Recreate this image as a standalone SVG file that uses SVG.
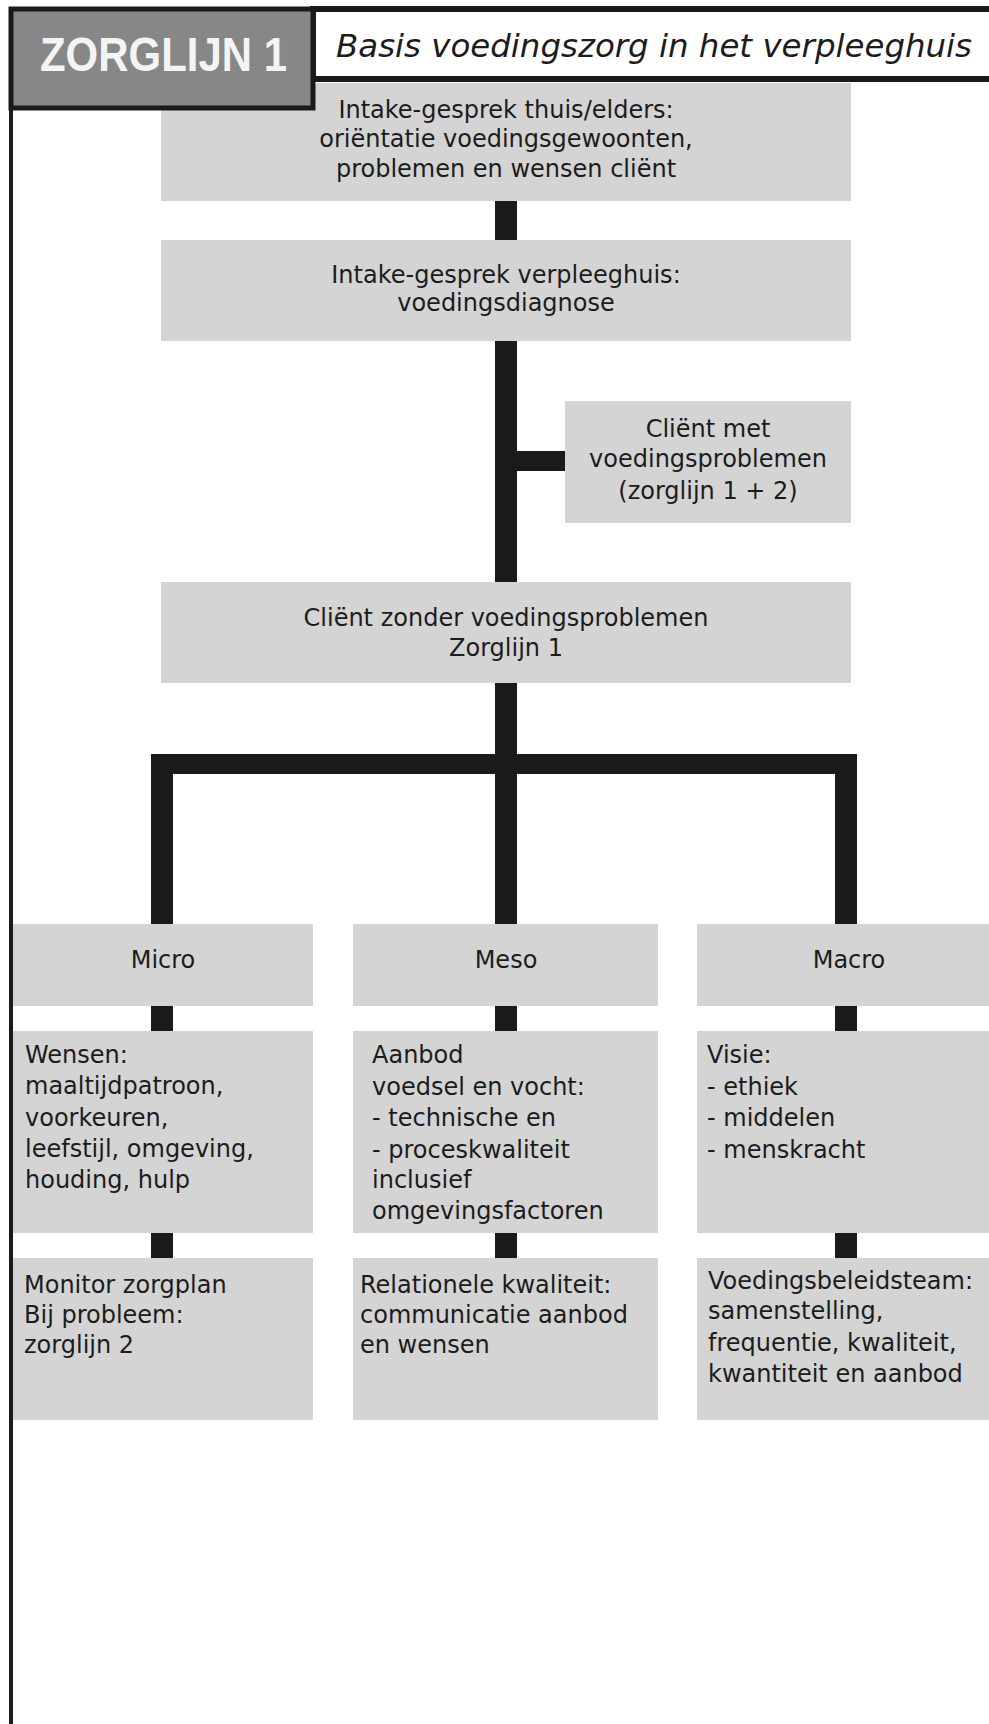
<svg xmlns="http://www.w3.org/2000/svg" width="989" height="1724" viewBox="0 0 989 1724">
<style>
.box{fill:#d4d4d4}
.t{font-family:"DejaVu Sans",Verdana,sans-serif;font-size:24px;fill:#1c1c1c}
.c{text-anchor:middle}
.bar{fill:#1a1a1a}
</style>
<rect width="989" height="1724" fill="#ffffff"/>
<g id="connectors" class="bar">
<rect x="495" y="199" width="22" height="43"/>
<rect x="495" y="339" width="22" height="245"/>
<rect x="515" y="451" width="52" height="20"/>
<rect x="495" y="681" width="22" height="83"/>
<rect x="151" y="754" width="706" height="20"/>
<rect x="151" y="754" width="22" height="172"/>
<rect x="495" y="754" width="22" height="172"/>
<rect x="835" y="754" width="22" height="172"/>
<rect x="151" y="1004" width="22" height="29"/>
<rect x="495" y="1004" width="22" height="29"/>
<rect x="835" y="1004" width="22" height="29"/>
<rect x="151" y="1231" width="22" height="29"/>
<rect x="495" y="1231" width="22" height="29"/>
<rect x="835" y="1231" width="22" height="29"/>
</g>
<g id="intake-thuis">
<rect class="box" x="161" y="83" width="690" height="118"/>
<text class="t c" x="506" y="118">Intake-gesprek thuis/elders:</text>
<text class="t c" x="506" y="147">oriëntatie voedingsgewoonten,</text>
<text class="t c" x="506" y="177">problemen en wensen cliënt</text>
</g>
<g id="intake-verpleeghuis">
<rect class="box" x="161" y="240" width="690" height="101"/>
<text class="t c" x="506" y="283">Intake-gesprek verpleeghuis:</text>
<text class="t c" x="506" y="311">voedingsdiagnose</text>
</g>
<g id="client-met">
<rect class="box" x="565" y="401" width="286" height="122"/>
<text class="t c" x="708" y="437">Cliënt met</text>
<text class="t c" x="708" y="467">voedingsproblemen</text>
<text class="t c" x="708" y="499">(zorglijn 1 + 2)</text>
</g>
<g id="client-zonder">
<rect class="box" x="161" y="582" width="690" height="101"/>
<text class="t c" x="506" y="626">Cliënt zonder voedingsproblemen</text>
<text class="t c" x="506" y="656">Zorglijn 1</text>
</g>
<g id="micro">
<rect class="box" x="13" y="924" width="300" height="82"/>
<text class="t c" x="163" y="968">Micro</text>
</g>
<g id="meso">
<rect class="box" x="353" y="924" width="305" height="82"/>
<text class="t c" x="506" y="968">Meso</text>
</g>
<g id="macro">
<rect class="box" x="697" y="924" width="300" height="82"/>
<text class="t c" x="849" y="968">Macro</text>
</g>
<g id="micro-wensen">
<rect class="box" x="13" y="1031" width="300" height="202"/>
<text class="t" x="25" y="1063">Wensen:</text>
<text class="t" x="25" y="1094">maaltijdpatroon,</text>
<text class="t" x="25" y="1126">voorkeuren,</text>
<text class="t" x="25" y="1157">leefstijl, omgeving,</text>
<text class="t" x="25" y="1188">houding, hulp</text>
</g>
<g id="meso-aanbod">
<rect class="box" x="353" y="1031" width="305" height="202"/>
<text class="t" x="372" y="1063">Aanbod</text>
<text class="t" x="372" y="1095">voedsel en vocht:</text>
<text class="t" x="372" y="1126">- technische en</text>
<text class="t" x="372" y="1158">- proceskwaliteit</text>
<text class="t" x="372" y="1188">inclusief</text>
<text class="t" x="372" y="1219">omgevingsfactoren</text>
</g>
<g id="macro-visie">
<rect class="box" x="697" y="1031" width="300" height="202"/>
<text class="t" x="707" y="1063">Visie:</text>
<text class="t" x="707" y="1095">- ethiek</text>
<text class="t" x="707" y="1126">- middelen</text>
<text class="t" x="707" y="1158">- menskracht</text>
</g>
<g id="micro-monitor">
<rect class="box" x="13" y="1258" width="300" height="162"/>
<text class="t" x="24" y="1293">Monitor zorgplan</text>
<text class="t" x="24" y="1323">Bij probleem:</text>
<text class="t" x="24" y="1353">zorglijn 2</text>
</g>
<g id="meso-relationeel">
<rect class="box" x="353" y="1258" width="305" height="162"/>
<text class="t" x="360" y="1293">Relationele kwaliteit:</text>
<text class="t" x="360" y="1323">communicatie aanbod</text>
<text class="t" x="360" y="1353">en wensen</text>
</g>
<g id="macro-beleidsteam">
<rect class="box" x="697" y="1258" width="300" height="162"/>
<text class="t" x="708" y="1289">Voedingsbeleidsteam:</text>
<text class="t" x="708" y="1319">samenstelling,</text>
<text class="t" x="708" y="1351">frequentie, kwaliteit,</text>
<text class="t" x="708" y="1382">kwantiteit en aanbod</text>
</g>
<g id="frame">
<path d="M11,1724 V9 H989" fill="none" stroke="#1a1a1a" stroke-width="4"/>
</g>
<g id="title">
<rect x="313" y="9" width="690" height="70" fill="#ffffff" stroke="#1a1a1a" stroke-width="6"/>
<text x="336" y="57" font-family="'DejaVu Sans',Verdana,sans-serif" font-style="italic" font-size="32" fill="#1c1c1c" textLength="636" lengthAdjust="spacingAndGlyphs">Basis voedingszorg in het verpleeghuis</text>
</g>
<g id="zorglijn-label">
<rect x="11" y="9" width="302" height="99" fill="#878787" stroke="#1a1a1a" stroke-width="5"/>
<text x="40" y="71" font-family="'Liberation Sans',Arial,sans-serif" font-weight="bold" font-size="49" fill="#f4f4f4" textLength="247" lengthAdjust="spacingAndGlyphs">ZORGLIJN 1</text>
</g>
</svg>
